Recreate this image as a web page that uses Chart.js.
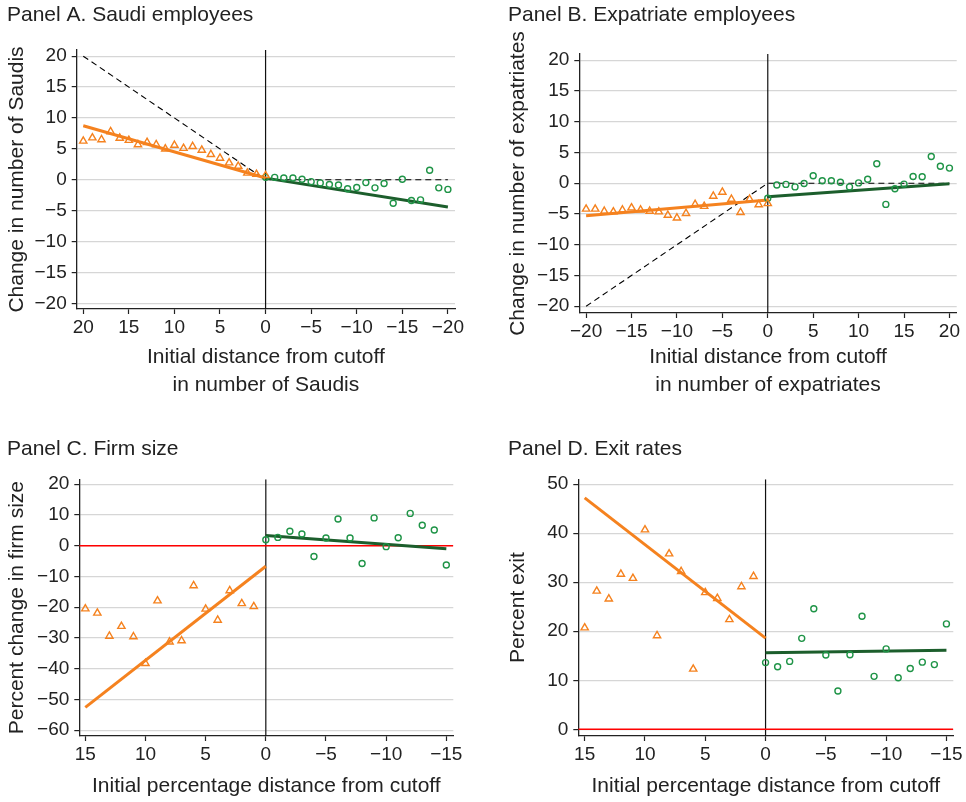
<!DOCTYPE html>
<html><head><meta charset="utf-8">
<script src="https://cdn.jsdelivr.net/npm/chart.js@4.4.1/dist/chart.umd.min.js"></script>
<style>
html,body{margin:0;padding:0;background:#fff;}
body{width:966px;height:802px;position:relative;overflow:hidden;}
canvas{position:absolute;}
</style></head><body>
<canvas id="cA" style="left:0px;top:0px;width:483px;height:400px" width="483" height="400"></canvas>
<canvas id="cB" style="left:483px;top:0px;width:483px;height:400px" width="483" height="400"></canvas>
<canvas id="cC" style="left:0px;top:400px;width:483px;height:402px" width="483" height="402"></canvas>
<canvas id="cD" style="left:483px;top:400px;width:483px;height:402px" width="483" height="402"></canvas>
<script>
// ---------- Panel A: Saudi employees ----------
const aOrangeX = [20,19,18,17,16,15,14,13,12,11,10,9,8,7,6,5,4,3,2,1,0];
const aOrangeY = [6.27,6.8,6.5,7.8,6.75,6.4,5.7,6.05,5.7,5.0,5.6,5.1,5.4,4.8,4.1,3.5,2.75,2.2,1.1,0.9,0.7];
const aGreenX = [0,-1,-2,-3,-4,-5,-6,-7,-8,-9,-10,-11,-12,-13,-14,-15,-16,-17,-18,-19,-20];
const aGreenY = [0.4,0.4,0.3,0.3,0.1,-0.3,-0.5,-0.75,-0.85,-1.45,-1.25,-0.45,-1.3,-0.6,-3.8,0.1,-3.35,-3.25,1.55,-1.3,-1.55];
const aOrangeFitX = [20, 0], aOrangeFitY = [8.75, 0.3];
const aGreenFitX = [0, -20], aGreenFitY = [0.27, -4.4];
const aRefX = [20, 0, -20], aRefY = [20, 0, 0];
const aYTicks = [-20,-15,-10,-5,0,5,10,15,20];
const aXTicks = [20,15,10,5,0,-5,-10,-15,-20];

// ---------- Panel B: Expatriate employees ----------
const bOrangeX = [-20,-19,-18,-17,-16,-15,-14,-13,-12,-11,-10,-9,-8,-7,-6,-5,-4,-3,-2,-1,0];
const bOrangeY = [-4.2,-4.2,-4.55,-4.65,-4.35,-4.0,-4.35,-4.55,-4.65,-5.2,-5.65,-4.9,-3.45,-3.75,-2.1,-1.45,-2.6,-4.75,-2.6,-3.5,-3.3];
const bGreenX = [0,1,2,3,4,5,6,7,8,9,10,11,12,13,14,15,16,17,18,19,20];
const bGreenY = [-2.45,-0.3,-0.2,-0.6,-0.05,1.2,0.4,0.4,0.15,-0.6,0.05,0.65,3.15,-3.45,-0.9,-0.15,1.1,1.05,4.35,2.75,2.45];
const bOrangeFitX = [-20, 0], bOrangeFitY = [-5.3, -2.75];
const bGreenFitX = [0, 20], bGreenFitY = [-2.2, -0.1];
const bRefX = [-20, 0, 20], bRefY = [-20, 0, 0];
const bYTicks = [-20,-15,-10,-5,0,5,10,15,20];
const bXTicks = [-20,-15,-10,-5,0,5,10,15,20];

// ---------- Panel C: Firm size ----------
const cOrangeX = [15,14,13,12,11,10,9,8,7,6,5,4,3,2,1];
const cOrangeY = [-20.5,-21.9,-29.4,-26.2,-29.6,-38.3,-17.9,-31.3,-30.9,-13.0,-20.6,-24.2,-14.6,-18.8,-19.8];
const cGreenX = [0,-1,-2,-3,-4,-5,-6,-7,-8,-9,-10,-11,-12,-13,-14,-15];
const cGreenY = [1.95,2.7,4.7,3.8,-3.5,2.5,8.7,2.5,-5.8,9.05,-0.3,2.6,10.5,6.65,5.1,-6.3];
const cOrangeFitX = [15, 0], cOrangeFitY = [-52.6, -6.7];
const cGreenFitX = [0, -15], cGreenFitY = [3.3, -1.0];
const cYTicks = [-60,-50,-40,-30,-20,-10,0,10,20];
const cXTicks = [15,10,5,0,-5,-10,-15];

// ---------- Panel D: Exit rates ----------
const dOrangeX = [15,14,13,12,11,10,9,8,7,6,5,4,3,2,1];
const dOrangeY = [20.7,28.2,26.6,31.65,30.8,40.7,19.1,35.8,32.2,12.3,27.9,26.7,22.4,29.1,31.2];
const dGreenX = [0,-1,-2,-3,-4,-5,-6,-7,-8,-9,-10,-11,-12,-13,-14,-15];
const dGreenY = [13.6,12.75,13.85,18.55,24.6,15.15,7.8,15.2,23.05,10.8,16.4,10.5,12.4,13.7,13.2,21.5];
const dOrangeFitX = [15, 0], dOrangeFitY = [47.2, 18.6];
const dGreenFitX = [0, -15], dGreenFitY = [15.6, 16.1];
const dYTicks = [0,10,20,30,40,50];
const dXTicks = [15,10,5,0,-5,-10,-15];

const FONT = "'Liberation Sans', Arial, Helvetica, sans-serif";
const ORANGE = '#F5821F';
const GREEN_PT = '#1F9447';
const GREEN_LN = '#1C5E2C';
const INK = '#222222';

function zip(xs, ys){ return xs.map((x,i)=>({x:x, y:ys[i]})); }
function fmt(v){ return v < 0 ? '\u2212' + Math.abs(v) : String(v); }

function panel(id, o){
  const ds = [];
  ds.push({type:'scatter', data:zip(o.ox,o.oy), pointStyle:'triangle', pointRadius:4.2, pointHoverRadius:4.2,
    pointBorderColor:ORANGE, pointBackgroundColor:'rgba(0,0,0,0)', pointBorderWidth:1.4, order:1});
  ds.push({type:'scatter', data:zip(o.gx,o.gy), pointStyle:'circle', pointRadius:3, pointHoverRadius:3,
    pointBorderColor:GREEN_PT, pointBackgroundColor:'rgba(0,0,0,0)', pointBorderWidth:1.4, order:2});
  ds.push({type:'line', data:zip(o.ofx,o.ofy), showLine:true, borderColor:ORANGE, borderWidth:3, pointRadius:0, fill:false, order:3});
  ds.push({type:'line', data:zip(o.gfx,o.gfy), showLine:true, borderColor:GREEN_LN, borderWidth:3, pointRadius:0, fill:false, order:4});
  if (o.refX) ds.push({type:'line', data:zip(o.refX,o.refY), showLine:true, borderColor:'#000', borderWidth:1.1, borderDash:[6,4], pointRadius:0, fill:false, order:5});
  if (o.red) ds.push({type:'line', data:[{x:o.xMin,y:0},{x:o.xMax,y:0}], showLine:true, borderColor:'#FF0000', borderWidth:1.5, pointRadius:0, fill:false, order:6});
  ds.push({type:'line', data:[{x:0,y:o.yMin},{x:0,y:o.yMax}], showLine:true, borderColor:'#111', borderWidth:1.2, pointRadius:0, fill:false, order:7});

  new Chart(document.getElementById(id), {
    type:'scatter',
    data:{datasets:ds},
    options:{
      responsive:false, animation:false, events:[],
      layout:{padding:{left:o.padL, right:o.padR, top:0, bottom:0}},
      plugins:{
        legend:{display:false}, tooltip:{enabled:false},
        title:{display:true, text:o.title, align:'start', color:INK,
          font:{family:FONT, size:21, weight:'normal', lineHeight:1},
          padding:{top:o.tTop, bottom:o.tBot}}
      },
      scales:{
        x:{type:'linear', reverse:o.reverse, min:o.xMin, max:o.xMax,
          afterBuildTicks:s=>{ s.ticks = o.xTicks.map(v=>({value:v})); },
          afterFit:s=>{ s.height = o.xH; },
          grid:{drawOnChartArea:false, drawTicks:true, tickLength:5, tickColor:INK, tickWidth:1.2},
          border:{display:true, color:INK, width:1.3},
          ticks:{color:INK, font:{family:FONT, size:19}, padding:2, maxRotation:0, autoSkip:false, callback:v=>fmt(v)},
          title:{display:true, text:o.xTitle, color:INK, font:{family:FONT, size:21, lineHeight:1.333}, padding:{top:0, bottom:o.xtPad}}
        },
        y:{type:'linear', min:o.yMin, max:o.yMax,
          afterBuildTicks:s=>{ s.ticks = o.yTicks.map(v=>({value:v})); },
          afterFit:s=>{ s.width = o.yW; },
          grid:{drawOnChartArea:true, color:'#D6D6D6', lineWidth:1.2, drawTicks:true, tickLength:5, tickColor:INK, tickWidth:1.2},
          border:{display:true, color:INK, width:1.3},
          ticks:{color:INK, font:{family:FONT, size:19}, padding:5, autoSkip:false, callback:v=>fmt(v)},
          title:{display:true, text:o.yTitle, color:INK, font:{family:FONT, size:21, lineHeight:1}, padding:{top:0, bottom:0}}
        }
      }
    }
  });
}

panel('cA', {title:'Panel A. Saudi employees', ox:aOrangeX, oy:aOrangeY, gx:aGreenX, gy:aGreenY,
  ofx:aOrangeFitX, ofy:aOrangeFitY, gfx:aGreenFitX, gfy:aGreenFitY, refX:aRefX, refY:aRefY, red:false,
  xMin:-20.78, xMax:20.72, yMin:-20.9, yMax:21, reverse:true, xTicks:aXTicks, yTicks:aYTicks,
  padL:7, padR:28, yW:69.7, xH:91, tTop:5, tBot:24, xtPad:1,
  xTitle:['Initial distance from cutoff','in number of Saudis'], yTitle:'Change in number of Saudis'});

panel('cB', {title:'Panel B. Expatriate employees', ox:bOrangeX, oy:bOrangeY, gx:bGreenX, gy:bGreenY,
  ofx:bOrangeFitX, ofy:bOrangeFitY, gfx:bGreenFitX, gfy:bGreenFitY, refX:bRefX, refY:bRefY, red:false,
  xMin:-20.75, xMax:20.8, yMin:-21.1, yMax:21, reverse:false, xTicks:bXTicks, yTicks:bYTicks,
  padL:25, padR:9.3, yW:71.3, xH:87, tTop:5, tBot:28, xtPad:1,
  xTitle:['Initial distance from cutoff','in number of expatriates'], yTitle:'Change in number of expatriates'});

panel('cC', {title:'Panel C. Firm size', ox:cOrangeX, oy:cOrangeY, gx:cGreenX, gy:cGreenY,
  ofx:cOrangeFitX, ofy:cOrangeFitY, gfx:cGreenFitX, gfy:cGreenFitY, refX:null, red:true,
  xMin:-15.58, xMax:15.5, yMin:-61.9, yMax:21.6, reverse:true, xTicks:cXTicks, yTicks:cYTicks,
  padL:7, padR:29.7, yW:72.3, xH:66, tTop:38.5, tBot:19.8, xtPad:2,
  xTitle:'Initial percentage distance from cutoff', yTitle:'Percent change in firm size'});

panel('cD', {title:'Panel D. Exit rates', ox:dOrangeX, oy:dOrangeY, gx:dGreenX, gy:dGreenY,
  ofx:dOrangeFitX, ofy:dOrangeFitY, gfx:dGreenFitX, gfy:dGreenFitY, refX:null, red:true,
  xMin:-15.57, xMax:15.53, yMin:-1.37, yMax:51, reverse:true, xTicks:dXTicks, yTicks:dYTicks,
  padL:25, padR:12.7, yW:70.3, xH:66, tTop:38.5, tBot:19.8, xtPad:2,
  xTitle:'Initial percentage distance from cutoff', yTitle:'Percent exit'});
</script>
</body></html>
